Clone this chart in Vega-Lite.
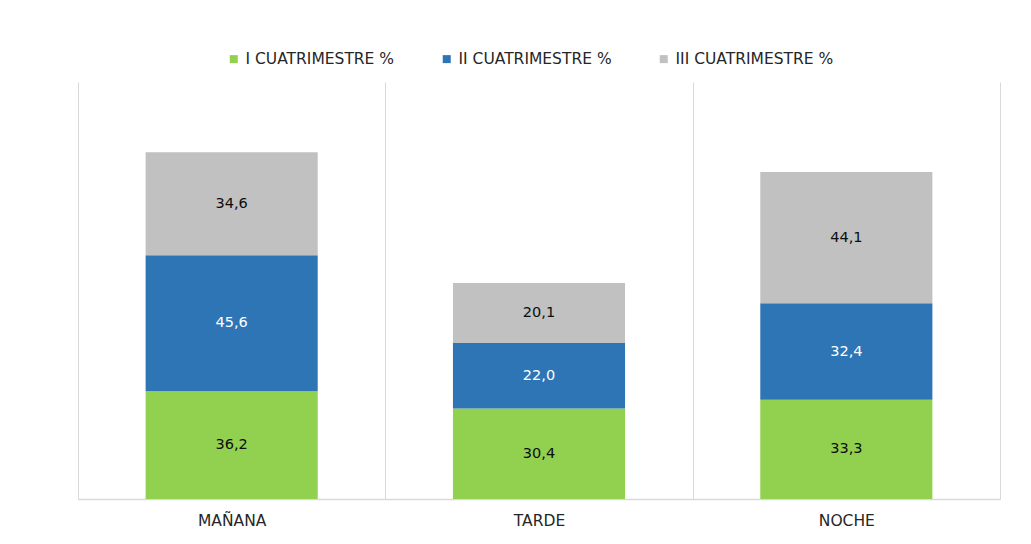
{
  "$schema": "https://vega.github.io/schema/vega-lite/v6.json",
  "autosize": {"type": "none"},
  "padding": {"left": 78, "top": 82, "right": 31, "bottom": 45},
  "width": 922,
  "height": 417,
  "background": "white",
  "config": {
    "font": "DejaVu Sans",
    "view": {"stroke": null},
    "locale": {"number": {"decimal": ",", "thousands": ".", "grouping": [3], "currency": ["", " €"]}}
  },
  "data": {
    "values": [
      {"turno": "MAÑANA", "serie": "I CUATRIMESTRE %", "valor": 36.2},
      {"turno": "MAÑANA", "serie": "II CUATRIMESTRE %", "valor": 45.6},
      {"turno": "MAÑANA", "serie": "III CUATRIMESTRE %", "valor": 34.6},
      {"turno": "TARDE", "serie": "I CUATRIMESTRE %", "valor": 30.4},
      {"turno": "TARDE", "serie": "II CUATRIMESTRE %", "valor": 22.0},
      {"turno": "TARDE", "serie": "III CUATRIMESTRE %", "valor": 20.1},
      {"turno": "NOCHE", "serie": "I CUATRIMESTRE %", "valor": 33.3},
      {"turno": "NOCHE", "serie": "II CUATRIMESTRE %", "valor": 32.4},
      {"turno": "NOCHE", "serie": "III CUATRIMESTRE %", "valor": 44.1}
    ]
  },
  "encoding": {
    "x": {
      "field": "turno",
      "type": "nominal",
      "sort": ["MAÑANA", "TARDE", "NOCHE"],
      "scale": {"paddingInner": 0.44, "paddingOuter": 0.22},
      "axis": {
        "title": null,
        "labelAngle": 0,
        "labelFontSize": 15.5,
        "labelColor": "#262626",
        "labelPadding": 14,
        "ticks": false,
        "domain": true,
        "domainColor": "#d9d9d9",
        "domainWidth": 1.5,
        "grid": true,
        "gridColor": "#d9d9d9",
        "gridWidth": 1,
        "bandPosition": 0.5,
        "tickOffset": -153.67,
        "labelOffset": 153.67
      }
    },
    "y": {
      "field": "valor",
      "type": "quantitative",
      "stack": "zero",
      "scale": {"domain": [0, 140], "nice": false},
      "axis": {
        "orient": "right",
        "title": null,
        "labels": false,
        "ticks": false,
        "grid": false,
        "domain": true,
        "domainColor": "#d9d9d9",
        "domainWidth": 1
      }
    },
    "order": {"field": "serie", "sort": "ascending"}
  },
  "layer": [
    {
      "mark": {"type": "bar"},
      "encoding": {
        "color": {
          "field": "serie",
          "type": "nominal",
          "scale": {
            "domain": ["I CUATRIMESTRE %", "II CUATRIMESTRE %", "III CUATRIMESTRE %"],
            "range": ["#92D050", "#2E75B6", "#C0C1C0"]
          },
          "legend": {
            "title": null,
            "orient": "none",
            "direction": "horizontal",
            "legendX": 148,
            "legendY": -31,
            "padding": 0,
            "symbolType": "square",
            "symbolSize": 64,
            "symbolStrokeWidth": 0,
            "labelFontSize": 15.5,
            "labelColor": "#262626",
            "labelOffset": 4,
            "columnPadding": 44
          }
        }
      }
    },
    {
      "mark": {"type": "text", "fontSize": 14.5, "baseline": "middle", "align": "center"},
      "encoding": {
        "y": {"field": "valor", "type": "quantitative", "stack": "zero", "bandPosition": 0.5},
        "text": {"field": "valor", "type": "quantitative", "format": ".1f"},
        "color": {
          "condition": {"test": "datum.serie === 'II CUATRIMESTRE %'", "value": "#ffffff"},
          "value": "#0d0d0d"
        }
      }
    }
  ]
}
